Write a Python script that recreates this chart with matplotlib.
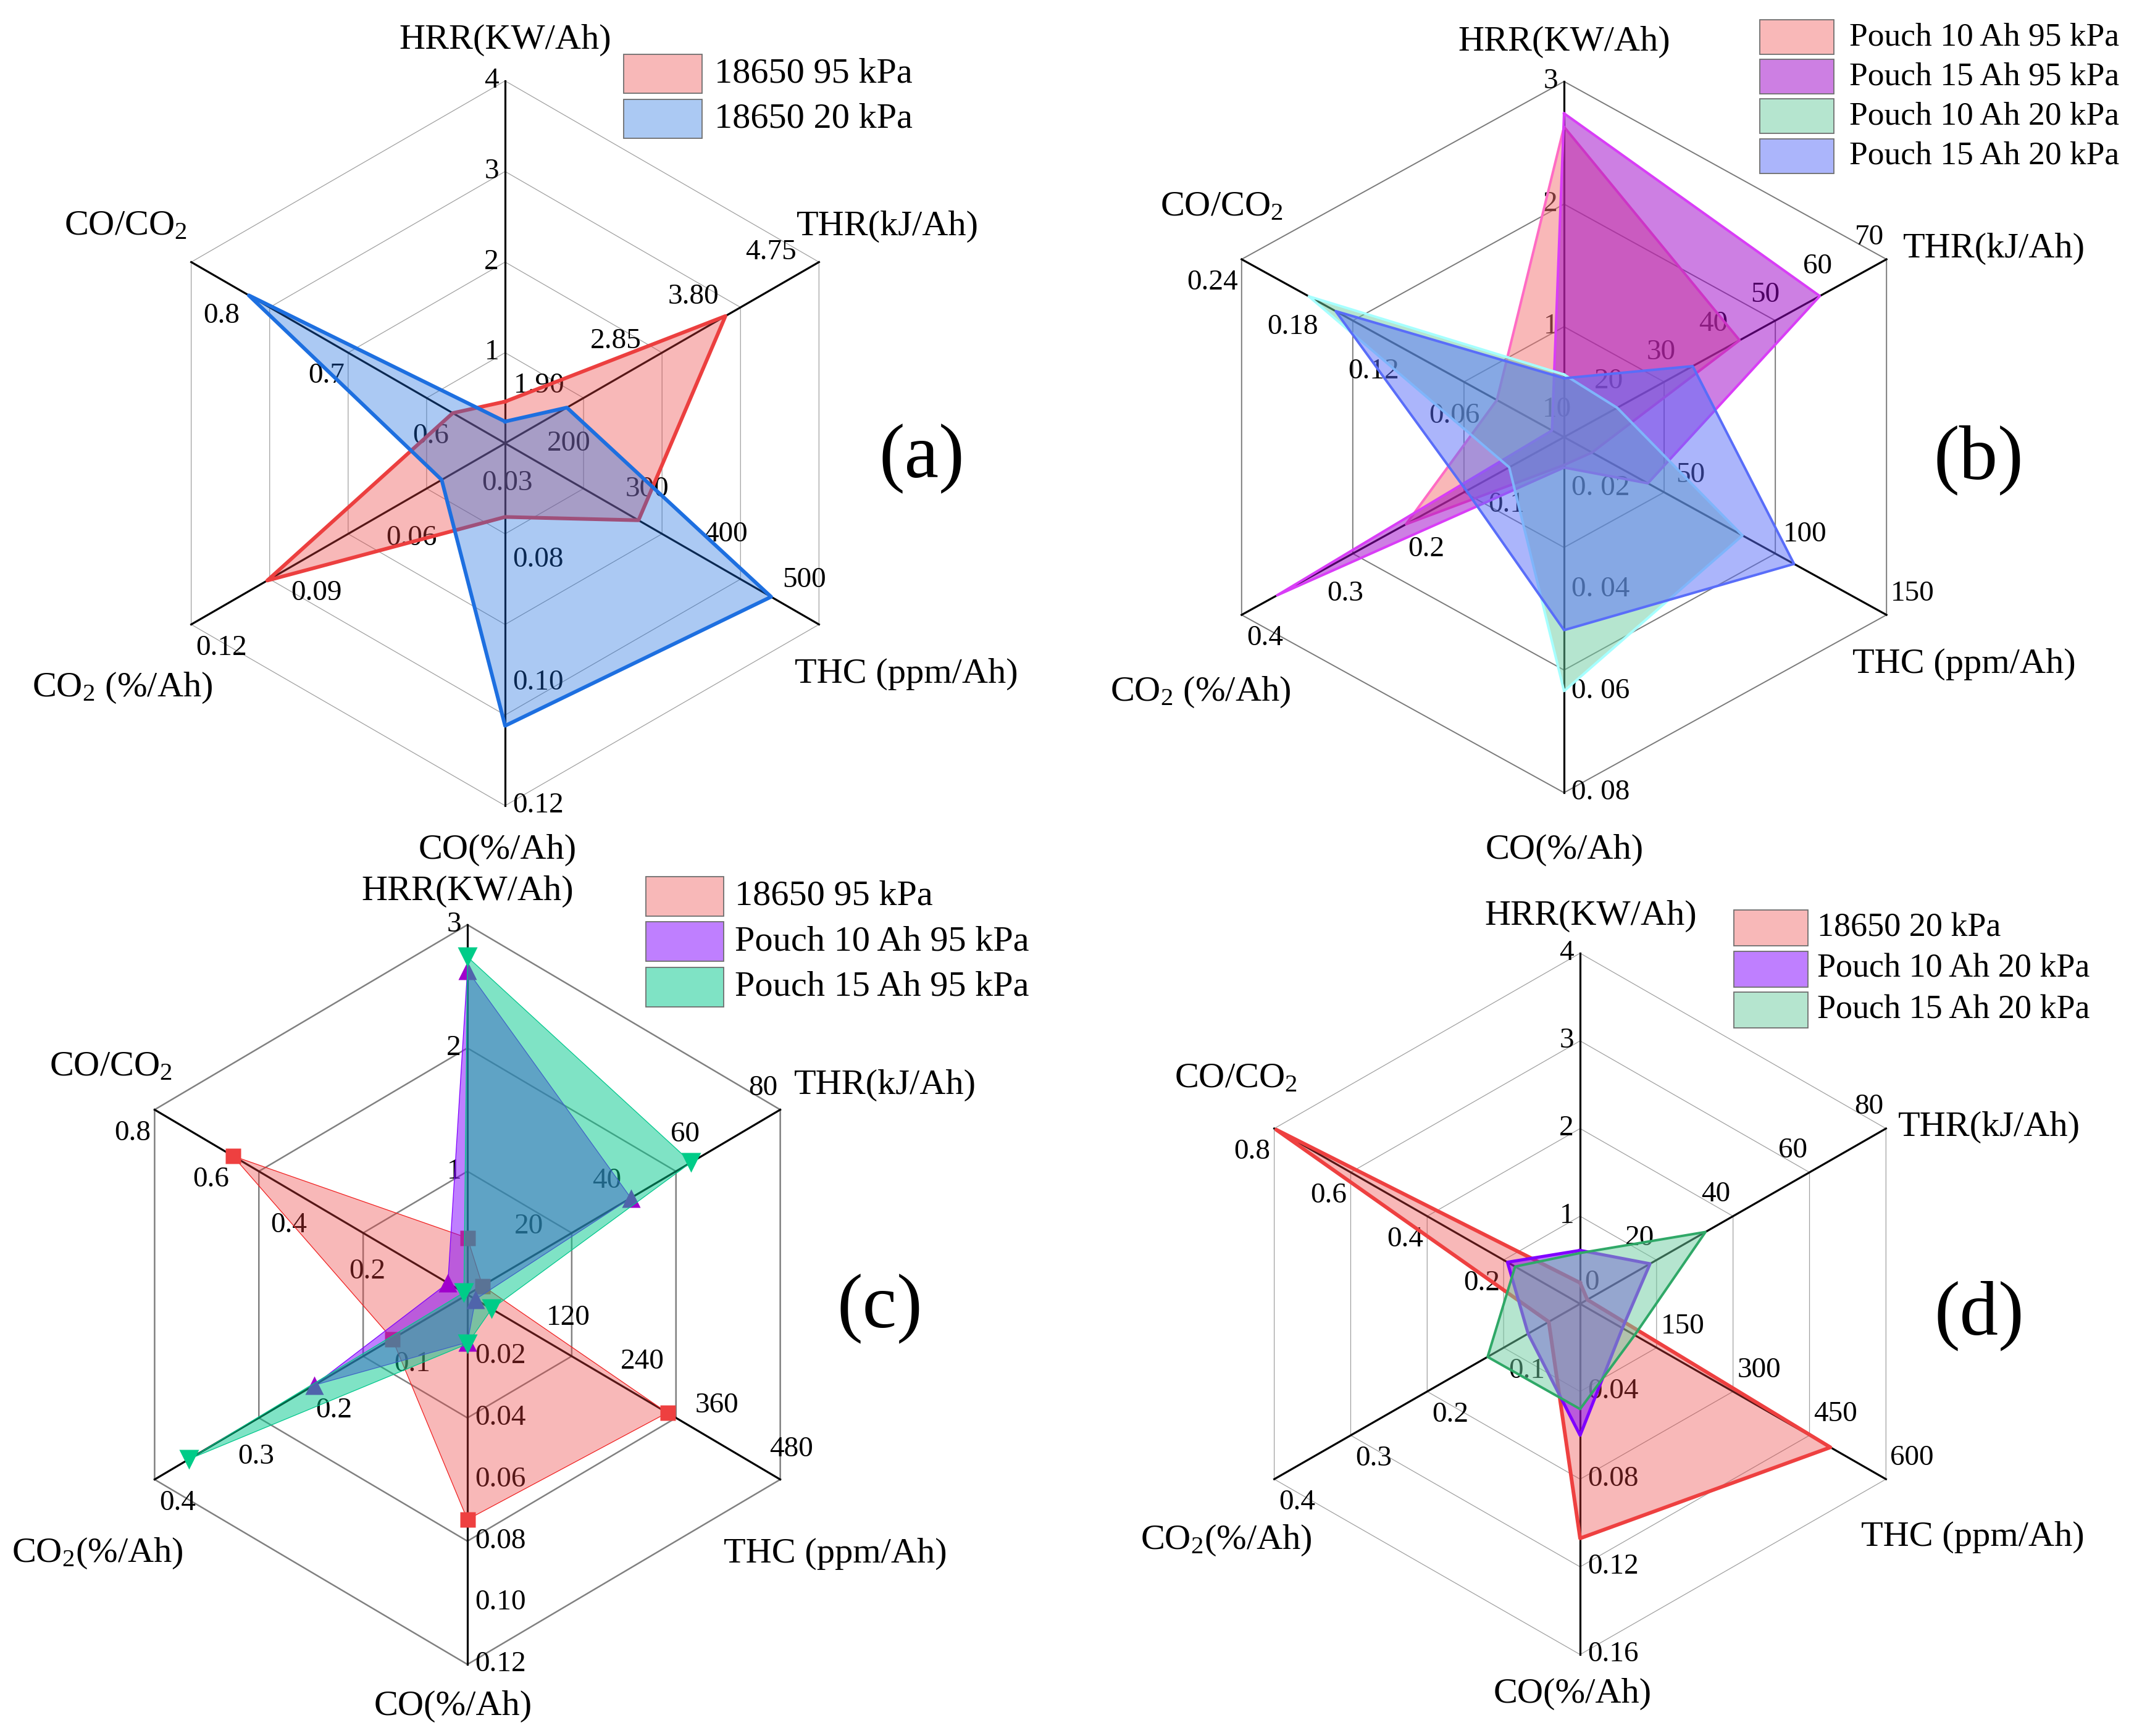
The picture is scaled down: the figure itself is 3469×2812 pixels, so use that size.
import numpy as np
import matplotlib
matplotlib.use('Agg')
import matplotlib.pyplot as plt
from matplotlib.patches import Rectangle
from matplotlib.colors import to_rgba

plt.rcParams['font.family'] = ['Liberation Serif', 'DejaVu Serif']
plt.rcParams['mathtext.fontset'] = 'custom'
plt.rcParams['mathtext.rm'] = 'Liberation Serif'
plt.rcParams['mathtext.it'] = 'Liberation Serif:italic'

# Axis order: HRR, THR, THC, CO, CO2, CO/CO2
angles = np.deg2rad([90, 30, -30, -90, -150, 150])

# Values per cell (same order as the axes)
cell_18650_95 = [0.46, 3.85, 322, 0.073, 0.096, 0.60]
cell_18650_20 = [0.24, 1.90, 491, 0.107, 0.041, 0.795]
pouch10_95 = [2.63, 41.8, 13, 0.0155, 0.196, 0.05]
pouch15_95 = [2.74, 57.2, 39, 0.016, 0.356, 0.009]
pouch10_20 = [0.61, 18.3, 83, 0.060, 0.068, 0.19]
pouch15_20 = [0.58, 32.8, 107, 0.048, 0.121, 0.17]

W, H = 3469, 2812

# tick label placement per axis direction: (dx, dy) pixels (y down), alignment
tick_off = [(-10, 0, 'right'), (-4, -35, 'right'), (7, -34, 'left'),
            (12, 0, 'left'), (8, 38, 'left'), (-6, 38, 'right')]

titles_ab = ['HRR(KW/Ah)', 'THR(kJ/Ah)', 'THC (ppm/Ah)', 'CO(%/Ah)',
             r'CO$\mathregular{_2}$ (%/Ah)', r'CO/CO$\mathregular{_2}$']
titles_cd = ['HRR(KW/Ah)', 'THR(kJ/Ah)', 'THC (ppm/Ah)', 'CO(%/Ah)',
             r'CO$\mathregular{_2}$(%/Ah)', r'CO/CO$\mathregular{_2}$']

panels = [
    dict(tag='(a)', tag_xy=(1493, 743), center=(818, 718), a=587, b=587,
         vmin=[0, 1.14, 152, 0.061, 0.021, 0.55],
         vmax=[4, 5.0, 552, 0.12, 0.12, 0.85],
         ticks=[['1', '2', '3', '4'], ['1.90', '2.85', '3.80', '4.75'],
                ['200', '300', '400', '500'], ['0.08', '0.10', '0.12'],
                ['0.03', '0.06', '0.09', '0.12'], ['0.6', '0.7', '0.8']],
         titles=titles_ab,
         title_off=[(0, -66), (111, -58), (142, 80), (-12, 72), (-111, 103), (-106, -58)],
         ring_color='#A0A0A0', ring_lw=0.9,
         series=[dict(vals=cell_18650_95, label='18650 95 kPa', line='#EC3F3F', fill='#EC3F3F', alpha=0.37, lw=4.3),
                 dict(vals=cell_18650_20, label='18650 20 kPa', line='#1D6FE0', fill='#1D6FE0', alpha=0.37, lw=4.3)],
         legend=dict(x=1010, y=88, w=127, h=63, pitch=73, gap=20, fs=42)),
    dict(tag='(b)', tag_xy=(3204, 745), center=(2533, 708), a=603, b=576,
         vmin=[0.1, 8.1, 0, 0.01, 0, 0],
         vmax=[3, 70, 150, 0.08, 0.4, 0.24],
         ticks=[['1', '2', '3'], ['10', '20', '30', '40', '50', '60', '70'],
                ['50', '100', '150'], ['0. 02', '0. 04', '0. 06', '0. 08'],
                ['0.1', '0.2', '0.3', '0.4'], ['0.06', '0.12', '0.18', '0.24']],
         titles=titles_ab,
         title_off=[(0, -64), (174, -17), (126, 80), (1, 93), (-67, 125), (-32, -85)],
         ring_color='#7A7A7A', ring_lw=1.4,
         series=[dict(vals=pouch10_95, label='Pouch 10 Ah 95 kPa', line='#FF6BC4', fill='#F57373', alpha=0.5, lw=2.9),
                 dict(vals=pouch15_95, label='Pouch 15 Ah 95 kPa', line='#D93DF7', fill='#9D00C9', alpha=0.5, lw=2.9),
                 dict(vals=pouch10_20, label='Pouch 10 Ah 20 kPa', line='#A6FFFF', fill='#6DCDA1', alpha=0.5, lw=2.9),
                 dict(vals=pouch15_20, label='Pouch 15 Ah 20 kPa', line='#596DF9', fill='#596DF9', alpha=0.5, lw=2.9)],
         legend=dict(x=2850, y=32, w=120, h=56, pitch=64.2, gap=25, fs=38.5)),
    dict(tag='(c)', tag_xy=(1425, 2120), center=(757, 2097), a=585, b=599,
         vmin=[0, 0, 0, 0, 0, 0],
         vmax=[3, 80, 504, 0.12, 0.4, 0.8],
         ticks=[['1', '2', '3'], ['20', '40', '60', '80'],
                ['120', '240', '360', '480'],
                ['0.02', '0.04', '0.06', '0.08', '0.10', '0.12'],
                ['0.1', '0.2', '0.3', '0.4'], ['0.2', '0.4', '0.6', '0.8']],
         titles=titles_cd,
         title_off=[(0, -54), (170, -40), (89, 120), (-23, 68), (-92, 120), (-71, -69)],
         ring_color='#808080', ring_lw=1.8,
         series=[dict(vals=cell_18650_95, label='18650 95 kPa', line='#F02020', fill='#EC3F3F', alpha=0.37, lw=0.9,
                      marker='s', mc='#EE4040', ms=18),
                 dict(vals=pouch10_95, label='Pouch 10 Ah 95 kPa', line='#8000FF', fill='#8000FF', alpha=0.5, lw=0.9,
                      marker='^', mc='#A000CC', ms=22),
                 dict(vals=pouch15_95, label='Pouch 15 Ah 95 kPa', line='#00C88C', fill='#00C88C', alpha=0.5, lw=0.9,
                      marker='v', mc='#00CC88', ms=23)],
         legend=dict(x=1046, y=1420, w=126, h=64, pitch=73.4, gap=18, fs=42)),
    dict(tag='(d)', tag_xy=(3205, 2131), center=(2559, 2112), a=572, b=568,
         vmin=[0, 0, 0, 0, 0, 0],
         vmax=[4, 80, 600, 0.16, 0.4, 0.8],
         ticks=[['1', '2', '3', '4'], ['20', '40', '60', '80'],
                ['0', '150', '300', '450', '600'], ['0.04', '0.08', '0.12', '0.16'],
                ['0.1', '0.2', '0.3', '0.4'], ['0.2', '0.4', '0.6', '0.8']],
         titles=titles_cd,
         title_off=[(17, -60), (167, -2), (141, 94), (-12, 64), (-78, 99), (-62, -81)],
         ring_color='#A0A0A0', ring_lw=0.9,
         series=[dict(vals=cell_18650_20, label='18650 20 kPa', line='#EE4040', fill='#EC3F3F', alpha=0.37, lw=4.3),
                 dict(vals=pouch10_20, label='Pouch 10 Ah 20 kPa', line='#8000FF', fill='#8000FF', alpha=0.5, lw=3.6),
                 dict(vals=pouch15_20, label='Pouch 15 Ah 20 kPa', line='#2FA867', fill='#6DCDA1', alpha=0.5, lw=2.9)],
         legend=dict(x=2808, y=1474, w=120, h=58, pitch=66.6, gap=15, fs=39)),
]


def scale(vals, vmin, vmax):
    return [(v - lo) / (hi - lo) for v, lo, hi in zip(vals, vmin, vmax)]


def draw_panel(fig, p):
    cx, cy = p['center']
    a, b = p['a'], p['b']
    ax = fig.add_axes([(cx - a) / W, 1 - (cy + b) / H, 2 * a / W, 2 * b / H],
                      projection='polar')
    ax.set_aspect('auto')
    ax.set_ylim(0, 1)
    ax.set_xticks([])
    ax.set_yticks([])
    ax.grid(False)
    for s in ax.spines.values():
        s.set_visible(False)
    ax.patch.set_visible(False)

    th = np.append(angles, angles[0])

    # hexagon rings at the HRR ticks
    hrr_ticks = [float(t) for t in p['ticks'][0]]
    for t in hrr_ticks:
        r = (t - p['vmin'][0]) / (p['vmax'][0] - p['vmin'][0])
        ax.plot(th, [r] * len(th), color=p['ring_color'], lw=p['ring_lw'],
                zorder=1, clip_on=False)

    # axis spokes
    for ang in angles:
        ax.plot([ang, ang], [0, 1], color='black', lw=2.3, zorder=2, clip_on=False)

    # tick labels (under the fills, like the original)
    for i, labels in enumerate(p['ticks']):
        dx, dy, ha = tick_off[i]
        for lab in labels:
            v = float(lab.replace(' ', ''))
            f = (v - p['vmin'][i]) / (p['vmax'][i] - p['vmin'][i])
            ax.annotate(lab, xy=(angles[i], f), xytext=(dx, -dy),
                        textcoords='offset pixels', ha=ha, va='center',
                        fontsize=34, zorder=3, annotation_clip=False)

    # axis titles
    for i, title in enumerate(p['titles']):
        dx, dy = p['title_off'][i]
        ax.annotate(title, xy=(angles[i], 1), xytext=(dx, -dy),
                    textcoords='offset pixels', ha='center', va='center',
                    fontsize=42, annotation_clip=False)

    # series
    for k, s in enumerate(p['series']):
        f = scale(s['vals'], p['vmin'], p['vmax'])
        fc = np.append(f, f[0])
        z = 5 + k
        ax.fill(th, fc, color=s['fill'], alpha=s['alpha'], lw=0, zorder=z)
        ax.plot(th, fc, color=s['line'], lw=s['lw'], zorder=z + 0.1, clip_on=False)
        if 'marker' in s:
            ax.plot(angles, f, ls='none', marker=s['marker'], ms=s['ms'],
                    color=s['mc'], mec='none', zorder=z + 0.2, clip_on=False)

    # legend boxes
    lg = p['legend']
    for k, s in enumerate(p['series']):
        y0 = lg['y'] + k * lg['pitch']
        fig.add_artist(Rectangle((lg['x'] / W, 1 - (y0 + lg['h']) / H),
                                 lg['w'] / W, lg['h'] / H, transform=fig.transFigure,
                                 facecolor=to_rgba(s['fill'], s['alpha']),
                                 edgecolor='#6E6E6E', lw=1.3))
        fig.text((lg['x'] + lg['w'] + lg['gap']) / W, 1 - (y0 + lg['h'] / 2) / H,
                 s['label'], ha='left', va='center', fontsize=lg['fs'])

    # panel tag
    tx, ty = p['tag_xy']
    fig.text(tx / W, 1 - ty / H, p['tag'], ha='center', va='center', fontsize=90)


def main():
    fig = plt.figure(figsize=(W / 100, H / 100), dpi=100)
    fig.patch.set_facecolor('white')
    for p in panels:
        draw_panel(fig, p)
    fig.savefig('out.png', dpi=100, facecolor='white')


if __name__ == "__main__":
    main()
